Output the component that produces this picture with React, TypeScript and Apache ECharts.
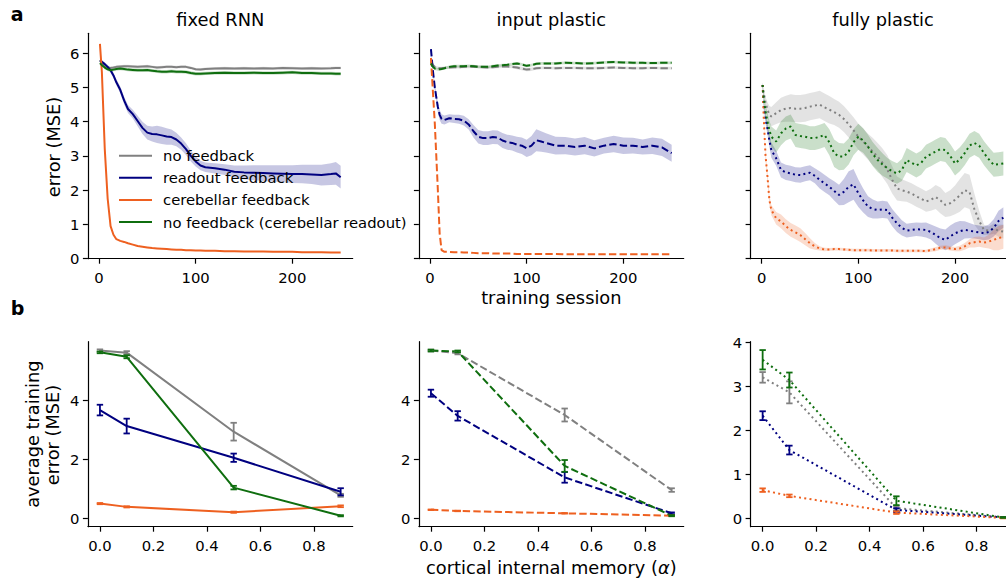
import React, { useEffect, useRef } from "react";
import * as echarts from "echarts";

// ---------------- data: panel a, fixed RNN ----------------
const tFixed = [1, 3, 6, 9, 12, 15, 18, 22, 26, 30, 35, 40, 45, 50, 55, 60, 65, 70, 75, 80, 85, 90, 95, 100, 105, 110, 120, 130, 140, 150, 160, 170, 180, 190, 200, 210, 220, 230, 240, 245, 250];
const fixedNoFb = [5.8, 5.7, 5.62, 5.58, 5.57, 5.58, 5.6, 5.61, 5.62, 5.62, 5.61, 5.6, 5.61, 5.62, 5.6, 5.58, 5.59, 5.6, 5.6, 5.59, 5.6, 5.6, 5.57, 5.53, 5.52, 5.54, 5.55, 5.56, 5.55, 5.56, 5.55, 5.56, 5.55, 5.57, 5.56, 5.55, 5.56, 5.55, 5.56, 5.57, 5.57];
const fixedNoFbSd = [0.04, 0.04, 0.04, 0.04, 0.04, 0.04, 0.04, 0.04, 0.04, 0.04, 0.04, 0.04, 0.04, 0.04, 0.04, 0.04, 0.04, 0.04, 0.04, 0.04, 0.04, 0.04, 0.04, 0.04, 0.04, 0.04, 0.04, 0.04, 0.04, 0.04, 0.04, 0.04, 0.04, 0.04, 0.04, 0.04, 0.04, 0.04, 0.04, 0.04, 0.04];
const fixedReadout = [5.78, 5.75, 5.68, 5.6, 5.5, 5.35, 5.15, 4.93, 4.62, 4.37, 4.22, 4.02, 3.82, 3.68, 3.64, 3.63, 3.6, 3.57, 3.55, 3.48, 3.36, 3.2, 3.0, 2.84, 2.72, 2.67, 2.64, 2.6, 2.54, 2.52, 2.51, 2.5, 2.49, 2.48, 2.47, 2.47, 2.46, 2.44, 2.47, 2.49, 2.38];
const fixedReadoutSd = [0.03, 0.04, 0.05, 0.06, 0.07, 0.08, 0.09, 0.1, 0.11, 0.12, 0.13, 0.15, 0.18, 0.2, 0.22, 0.25, 0.25, 0.24, 0.22, 0.2, 0.18, 0.17, 0.16, 0.15, 0.14, 0.14, 0.15, 0.16, 0.18, 0.2, 0.22, 0.23, 0.24, 0.25, 0.26, 0.27, 0.28, 0.3, 0.32, 0.33, 0.33];
const fixedCereb = [6.27, 5.45, 3.2, 1.75, 0.95, 0.7, 0.57, 0.52, 0.49, 0.45, 0.41, 0.37, 0.35, 0.33, 0.31, 0.3, 0.29, 0.28, 0.27, 0.26, 0.26, 0.25, 0.25, 0.24, 0.24, 0.23, 0.23, 0.22, 0.22, 0.21, 0.21, 0.21, 0.2, 0.2, 0.2, 0.19, 0.19, 0.19, 0.18, 0.18, 0.18];
const fixedCerebReadout = [5.71, 5.65, 5.58, 5.53, 5.5, 5.52, 5.54, 5.55, 5.54, 5.52, 5.51, 5.5, 5.5, 5.51, 5.49, 5.47, 5.46, 5.46, 5.47, 5.46, 5.46, 5.45, 5.42, 5.4, 5.4, 5.41, 5.42, 5.43, 5.42, 5.42, 5.43, 5.42, 5.42, 5.43, 5.44, 5.42, 5.42, 5.41, 5.41, 5.4, 5.4];
const fixedCerebReadoutSd = [0.05, 0.05, 0.05, 0.05, 0.05, 0.05, 0.05, 0.05, 0.05, 0.05, 0.05, 0.05, 0.05, 0.05, 0.05, 0.05, 0.05, 0.05, 0.05, 0.05, 0.05, 0.05, 0.05, 0.05, 0.05, 0.05, 0.05, 0.05, 0.05, 0.05, 0.05, 0.05, 0.05, 0.05, 0.05, 0.05, 0.05, 0.05, 0.05, 0.05, 0.05];

// ---------------- data: panel a, input plastic ----------------
const tInput = [1, 3, 5, 8, 10, 12, 15, 20, 25, 30, 35, 40, 45, 50, 55, 60, 65, 70, 75, 80, 85, 90, 95, 100, 105, 110, 115, 120, 130, 140, 150, 160, 170, 180, 190, 200, 210, 220, 230, 240, 250];
const inputNoFb = [5.76, 5.66, 5.6, 5.57, 5.56, 5.56, 5.57, 5.58, 5.59, 5.59, 5.6, 5.6, 5.61, 5.6, 5.59, 5.58, 5.59, 5.6, 5.61, 5.61, 5.6, 5.58, 5.55, 5.52, 5.53, 5.56, 5.57, 5.57, 5.56, 5.57, 5.57, 5.56, 5.56, 5.57, 5.58, 5.57, 5.56, 5.56, 5.57, 5.56, 5.56];
const inputNoFbSd = [0.04, 0.04, 0.04, 0.04, 0.04, 0.04, 0.04, 0.04, 0.04, 0.04, 0.04, 0.04, 0.04, 0.04, 0.04, 0.04, 0.04, 0.04, 0.04, 0.04, 0.04, 0.05, 0.05, 0.05, 0.05, 0.04, 0.04, 0.04, 0.04, 0.04, 0.04, 0.04, 0.04, 0.04, 0.04, 0.04, 0.04, 0.04, 0.04, 0.04, 0.04];
const inputReadout = [6.12, 5.5, 5.0, 4.45, 4.2, 4.08, 4.05, 4.1, 4.08, 4.07, 4.03, 3.92, 3.72, 3.56, 3.52, 3.52, 3.55, 3.54, 3.45, 3.4, 3.38, 3.33, 3.3, 3.22, 3.3, 3.46, 3.42, 3.38, 3.3, 3.3, 3.26, 3.3, 3.22, 3.3, 3.35, 3.3, 3.3, 3.26, 3.3, 3.25, 3.08];
const inputReadoutSd = [0.03, 0.08, 0.12, 0.15, 0.15, 0.14, 0.13, 0.12, 0.12, 0.13, 0.14, 0.15, 0.18, 0.2, 0.2, 0.2, 0.2, 0.2, 0.22, 0.22, 0.22, 0.23, 0.24, 0.25, 0.28, 0.32, 0.3, 0.28, 0.26, 0.25, 0.25, 0.25, 0.24, 0.23, 0.24, 0.24, 0.23, 0.22, 0.24, 0.25, 0.25];
const inputCereb = [5.86, 4.9, 3.95, 2.1, 0.74, 0.25, 0.2, 0.2, 0.19, 0.19, 0.18, 0.18, 0.17, 0.16, 0.16, 0.16, 0.15, 0.15, 0.15, 0.15, 0.15, 0.14, 0.14, 0.14, 0.14, 0.14, 0.14, 0.14, 0.14, 0.13, 0.13, 0.13, 0.13, 0.13, 0.13, 0.13, 0.13, 0.13, 0.13, 0.13, 0.13];
const inputCerebReadout = [5.7, 5.6, 5.55, 5.53, 5.53, 5.54, 5.56, 5.6, 5.62, 5.62, 5.62, 5.63, 5.62, 5.6, 5.6, 5.6, 5.62, 5.64, 5.65, 5.66, 5.68, 5.7, 5.67, 5.63, 5.65, 5.69, 5.7, 5.7, 5.7, 5.72, 5.71, 5.7, 5.71, 5.73, 5.74, 5.73, 5.72, 5.72, 5.71, 5.72, 5.72];
const inputCerebReadoutSd = [0.04, 0.04, 0.04, 0.04, 0.04, 0.04, 0.04, 0.04, 0.04, 0.04, 0.04, 0.04, 0.04, 0.04, 0.04, 0.04, 0.04, 0.04, 0.04, 0.04, 0.04, 0.04, 0.04, 0.04, 0.04, 0.04, 0.04, 0.04, 0.04, 0.04, 0.04, 0.04, 0.04, 0.04, 0.04, 0.04, 0.04, 0.04, 0.04, 0.04, 0.04];

// ---------------- data: panel a, fully plastic ----------------
const tFull = [1, 2, 4, 6, 8, 10, 15, 20, 25, 30, 35, 40, 45, 50, 55, 60, 65, 70, 75, 80, 85, 90, 95, 100, 105, 110, 115, 120, 125, 130, 135, 140, 145, 150, 155, 160, 165, 170, 175, 180, 185, 190, 195, 200, 205, 210, 215, 220, 225, 230, 235, 240, 245, 250];
const fullNoFb = [5.07, 4.85, 4.55, 4.35, 4.2, 4.15, 4.25, 4.34, 4.38, 4.4, 4.38, 4.38, 4.4, 4.44, 4.47, 4.5, 4.42, 4.35, 4.28, 4.2, 4.08, 3.92, 3.75, 3.56, 3.42, 3.27, 3.12, 2.98, 2.8, 2.6, 2.3, 2.05, 2.0, 1.96, 1.9, 1.82, 1.75, 1.67, 1.72, 1.8, 1.7, 1.57, 1.62, 1.72, 1.85, 2.0, 1.95, 1.45, 1.1, 0.84, 0.82, 0.88, 0.82, 0.79];
const fullNoFbSd = [0.08, 0.12, 0.18, 0.22, 0.26, 0.28, 0.32, 0.36, 0.38, 0.4, 0.4, 0.4, 0.4, 0.4, 0.4, 0.4, 0.4, 0.4, 0.38, 0.38, 0.38, 0.38, 0.38, 0.38, 0.38, 0.38, 0.4, 0.4, 0.42, 0.42, 0.4, 0.35, 0.32, 0.3, 0.3, 0.3, 0.3, 0.3, 0.32, 0.35, 0.38, 0.35, 0.38, 0.42, 0.48, 0.5, 0.5, 0.45, 0.3, 0.15, 0.12, 0.15, 0.18, 0.2];
const fullReadout = [5.07, 4.5, 4.1, 3.8, 3.45, 3.17, 2.93, 2.59, 2.52, 2.49, 2.45, 2.44, 2.48, 2.51, 2.42, 2.3, 2.2, 2.1, 1.98, 1.86, 1.95, 2.1, 2.17, 1.91, 1.7, 1.52, 1.45, 1.42, 1.44, 1.42, 1.2, 1.03, 0.9, 0.82, 0.84, 0.86, 0.85, 0.84, 0.78, 0.69, 0.6, 0.55, 0.65, 0.74, 0.8, 0.84, 0.82, 0.79, 0.77, 0.74, 0.78, 0.9, 1.1, 1.2];
const fullReadoutSd = [0.08, 0.12, 0.15, 0.18, 0.2, 0.22, 0.22, 0.22, 0.22, 0.22, 0.22, 0.22, 0.22, 0.22, 0.22, 0.25, 0.25, 0.25, 0.28, 0.3, 0.38, 0.45, 0.45, 0.4, 0.35, 0.3, 0.28, 0.25, 0.25, 0.25, 0.25, 0.25, 0.22, 0.2, 0.2, 0.2, 0.2, 0.22, 0.22, 0.25, 0.28, 0.3, 0.32, 0.32, 0.3, 0.25, 0.22, 0.2, 0.2, 0.2, 0.22, 0.25, 0.3, 0.3];
const fullCereb = [5.07, 4.2, 3.0, 2.4, 1.71, 1.42, 1.18, 1.09, 0.95, 0.84, 0.77, 0.69, 0.57, 0.45, 0.36, 0.3, 0.27, 0.27, 0.28, 0.28, 0.27, 0.26, 0.25, 0.25, 0.25, 0.25, 0.24, 0.24, 0.24, 0.24, 0.24, 0.23, 0.23, 0.23, 0.23, 0.23, 0.23, 0.22, 0.25, 0.28, 0.32, 0.33, 0.3, 0.28, 0.3, 0.36, 0.45, 0.48, 0.5, 0.47, 0.5, 0.55, 0.6, 0.64];
const fullCerebSd = [0.05, 0.1, 0.15, 0.15, 0.15, 0.15, 0.18, 0.2, 0.2, 0.2, 0.2, 0.2, 0.18, 0.15, 0.1, 0.06, 0.05, 0.04, 0.04, 0.04, 0.04, 0.04, 0.04, 0.04, 0.04, 0.04, 0.04, 0.04, 0.04, 0.04, 0.04, 0.04, 0.04, 0.04, 0.04, 0.04, 0.04, 0.04, 0.05, 0.06, 0.06, 0.06, 0.06, 0.06, 0.08, 0.1, 0.12, 0.15, 0.15, 0.15, 0.2, 0.3, 0.35, 0.35];
const fullCerebReadout = [5.07, 4.7, 4.3, 4.0, 3.75, 3.56, 3.42, 3.66, 3.8, 3.86, 3.61, 3.58, 3.56, 3.52, 3.52, 3.56, 3.61, 3.4, 3.08, 2.98, 2.98, 3.13, 3.4, 3.56, 3.45, 3.27, 3.05, 2.88, 2.75, 2.64, 2.55, 2.49, 2.59, 2.88, 2.8, 2.72, 2.8, 2.98, 3.05, 3.13, 3.2, 3.17, 3.0, 2.78, 2.9, 3.08, 3.3, 3.38, 3.3, 3.08, 2.9, 2.74, 2.76, 2.78];
const fullCerebReadoutSd = [0.08, 0.15, 0.2, 0.25, 0.28, 0.3, 0.32, 0.35, 0.35, 0.35, 0.35, 0.35, 0.35, 0.35, 0.35, 0.35, 0.35, 0.38, 0.4, 0.4, 0.38, 0.38, 0.38, 0.38, 0.36, 0.35, 0.35, 0.35, 0.33, 0.3, 0.3, 0.3, 0.32, 0.35, 0.35, 0.35, 0.35, 0.35, 0.35, 0.35, 0.35, 0.35, 0.35, 0.35, 0.35, 0.35, 0.35, 0.35, 0.35, 0.35, 0.35, 0.35, 0.35, 0.35];

// ---------------- data: panel b ----------------
const alphaVals = [0, 0.1, 0.5, 0.9];
const bFixedNoFb = [5.67, 5.6, 2.93, 0.78];
const bFixedNoFbErr = [0.04, 0.05, 0.3, 0.05];
const bFixedReadout = [3.66, 3.12, 2.05, 0.9];
const bFixedReadoutErr = [0.18, 0.25, 0.14, 0.12];
const bFixedCereb = [0.5, 0.39, 0.21, 0.41];
const bFixedCerebErr = [0.02, 0.02, 0.02, 0.03];
const bFixedCerebReadout = [5.61, 5.46, 1.04, 0.09];
const bFixedCerebReadoutErr = [0.03, 0.05, 0.06, 0.02];

const bInputNoFb = [5.7, 5.61, 3.51, 0.96];
const bInputNoFbErr = [0.03, 0.04, 0.22, 0.06];
const bInputReadout = [4.25, 3.48, 1.39, 0.17];
const bInputReadoutErr = [0.12, 0.16, 0.18, 0.03];
const bInputCereb = [0.29, 0.25, 0.17, 0.09];
const bInputCerebErr = [0.01, 0.01, 0.01, 0.01];
const bInputCerebReadout = [5.7, 5.67, 1.78, 0.09];
const bInputCerebReadoutErr = [0.03, 0.03, 0.2, 0.02];

const bFullNoFb = [3.2, 2.86, 0.23, 0.02];
const bFullNoFbErr = [0.12, 0.25, 0.05, 0.01];
const bFullReadout = [2.33, 1.55, 0.19, 0.02];
const bFullReadoutErr = [0.1, 0.1, 0.04, 0.01];
const bFullCereb = [0.64, 0.51, 0.13, 0.01];
const bFullCerebErr = [0.04, 0.03, 0.03, 0.01];
const bFullCerebReadout = [3.6, 3.14, 0.4, 0.02];
const bFullCerebReadoutErr = [0.22, 0.17, 0.1, 0.01];

// ---------------- labels ----------------
const panelTitles = ["fixed RNN", "input plastic", "fully plastic"];
const legendNames = ["no feedback", "readout feedback", "cerebellar feedback", "no feedback (cerebellar readout)"];
const topYTicks = [0, 1, 2, 3, 4, 5, 6];
const topXTicks = [0, 100, 200];
const bottomXTicks = [0, 0.2, 0.4, 0.6, 0.8];
const bottomYTicks = [0, 2, 4];
const bottomYTicksFull = [0, 1, 2, 3, 4];

// ---------------- styles ----------------
const GRAY = "#808080";
const NAVY = "#000080";
const ORANGE = "#ee6020";
const GREEN = "#0f6e0f";
const FONT = "DejaVu Sans";
const GRID_LEFT = [87.9, 418.9, 750.6];
const GRID_W = 264.8;
const DASHED = [7.4, 3.2];
const DOTTED = [2, 3.3];

function bandSeries(ax: number, ts: number[], mean: number[], sd: number[], color: string) {
  return {
    type: "custom",
    xAxisIndex: ax,
    yAxisIndex: ax,
    silent: true,
    z: 1,
    data: ts.map((t, i) => [t, mean[i] - sd[i], mean[i] + sd[i]]),
    encode: { x: 0, y: [1, 2] },
    renderItem: (params: any, api: any) => {
      if (params.dataIndex !== 0) return null;
      const up = ts.map((t, i) => api.coord([t, mean[i] + sd[i]]));
      const lo = ts.map((t, i) => api.coord([t, mean[i] - sd[i]])).reverse();
      return {
        type: "polygon",
        shape: { points: up.concat(lo) },
        style: { fill: color, opacity: 0.22 },
      };
    },
  };
}

function lineSeries(name: string, ax: number, xs: number[], ys: number[], color: string, dash: any) {
  return {
    type: "line",
    name,
    xAxisIndex: ax,
    yAxisIndex: ax,
    data: xs.map((x, i) => [x, ys[i]]),
    showSymbol: false,
    symbol: "none",
    color,
    itemStyle: { color },
    lineStyle: { color, width: 2, type: dash },
    z: 3,
  };
}

function errSeries(ax: number, ys: number[], errs: number[], color: string) {
  return {
    type: "custom",
    xAxisIndex: ax,
    yAxisIndex: ax,
    silent: true,
    z: 4,
    data: alphaVals.map((a, i) => [a, ys[i], errs[i]]),
    encode: { x: 0, y: 1 },
    renderItem: (params: any, api: any) => {
      const x = api.value(0);
      const y = api.value(1);
      const e = api.value(2);
      const a = api.coord([x, y + e]);
      const b = api.coord([x, y - e]);
      const cw = 3.2;
      const st = { stroke: color, lineWidth: 1.8 };
      return {
        type: "group",
        children: [
          { type: "line", shape: { x1: a[0], y1: a[1], x2: b[0], y2: b[1] }, style: st },
          { type: "line", shape: { x1: a[0] - cw, y1: a[1], x2: a[0] + cw, y2: a[1] }, style: st },
          { type: "line", shape: { x1: b[0] - cw, y1: b[1], x2: b[0] + cw, y2: b[1] }, style: st },
        ],
      };
    },
  };
}

function axis(gi: number, min: number, max: number, ticks: number[], showLabels: boolean, fmt: (v: number) => string, isX: boolean) {
  return {
    type: "value",
    gridIndex: gi,
    min,
    max,
    axisLine: { show: true, onZero: false, lineStyle: { color: "#000", width: 1.2 } },
    axisTick: { show: true, inside: false, length: 5, customValues: ticks, lineStyle: { color: "#000", width: 1.2 } },
    axisLabel: {
      show: showLabels,
      customValues: ticks,
      color: "#000",
      fontSize: 14.8,
      fontFamily: FONT,
      margin: isX ? 11.5 : 8.5,
      formatter: (v: number) => fmt(v),
    },
    splitLine: { show: false },
  };
}

const intFmt = (v: number) => String(Math.round(v));
const decFmt = (v: number) => v.toFixed(1);

export default function App() {
  const ref = useRef<HTMLDivElement>(null);
  useEffect(() => {
    if (!ref.current) return;
    const chart = echarts.init(ref.current, null, { renderer: "svg" });

    const grids: any[] = [];
    for (let i = 0; i < 3; i++) {
      grids.push({ left: GRID_LEFT[i], top: 33.3, width: GRID_W, height: 225.4, containLabel: false, outerBoundsMode: "none" });
    }
    for (let i = 0; i < 3; i++) {
      grids.push({ left: GRID_LEFT[i], top: 341.7, width: GRID_W, height: 185, containLabel: false, outerBoundsMode: "none" });
    }

    const xAxes: any[] = [];
    const yAxes: any[] = [];
    for (let i = 0; i < 3; i++) {
      xAxes.push(axis(i, -11.45, 262.45, topXTicks, true, intFmt, true));
      yAxes.push(axis(i, 0, 6.58, topYTicks, i === 0, intFmt, false));
    }
    for (let i = 0; i < 3; i++) {
      xAxes.push(axis(3 + i, -0.045, 0.945, bottomXTicks, true, decFmt, true));
    }
    yAxes.push(axis(3, -0.28, 5.97, bottomYTicks, true, intFmt, false));
    yAxes.push(axis(4, -0.285, 6.0, bottomYTicks, true, intFmt, false));
    yAxes.push(axis(5, -0.19, 4.01, bottomYTicksFull, true, intFmt, false));

    const series: any[] = [
      // fixed RNN
      bandSeries(0, tFixed, fixedNoFb, fixedNoFbSd, GRAY),
      bandSeries(0, tFixed, fixedReadout, fixedReadoutSd, NAVY),
      bandSeries(0, tFixed, fixedCerebReadout, fixedCerebReadoutSd, GREEN),
      lineSeries(legendNames[0], 0, tFixed, fixedNoFb, GRAY, "solid"),
      lineSeries(legendNames[1], 0, tFixed, fixedReadout, NAVY, "solid"),
      lineSeries(legendNames[2], 0, tFixed, fixedCereb, ORANGE, "solid"),
      lineSeries(legendNames[3], 0, tFixed, fixedCerebReadout, GREEN, "solid"),
      // input plastic
      bandSeries(1, tInput, inputNoFb, inputNoFbSd, GRAY),
      bandSeries(1, tInput, inputReadout, inputReadoutSd, NAVY),
      bandSeries(1, tInput, inputCerebReadout, inputCerebReadoutSd, GREEN),
      lineSeries("ip-nofb", 1, tInput, inputNoFb, GRAY, DASHED),
      lineSeries("ip-readout", 1, tInput, inputReadout, NAVY, DASHED),
      lineSeries("ip-cereb", 1, tInput, inputCereb, ORANGE, DASHED),
      lineSeries("ip-cerebreadout", 1, tInput, inputCerebReadout, GREEN, DASHED),
      // fully plastic
      bandSeries(2, tFull, fullNoFb, fullNoFbSd, GRAY),
      bandSeries(2, tFull, fullReadout, fullReadoutSd, NAVY),
      bandSeries(2, tFull, fullCereb, fullCerebSd, ORANGE),
      bandSeries(2, tFull, fullCerebReadout, fullCerebReadoutSd, GREEN),
      lineSeries("fp-nofb", 2, tFull, fullNoFb, GRAY, DOTTED),
      lineSeries("fp-readout", 2, tFull, fullReadout, NAVY, DOTTED),
      lineSeries("fp-cereb", 2, tFull, fullCereb, ORANGE, DOTTED),
      lineSeries("fp-cerebreadout", 2, tFull, fullCerebReadout, GREEN, DOTTED),
      // b: fixed
      lineSeries("b1-nofb", 3, alphaVals, bFixedNoFb, GRAY, "solid"),
      lineSeries("b1-readout", 3, alphaVals, bFixedReadout, NAVY, "solid"),
      lineSeries("b1-cereb", 3, alphaVals, bFixedCereb, ORANGE, "solid"),
      lineSeries("b1-cerebreadout", 3, alphaVals, bFixedCerebReadout, GREEN, "solid"),
      errSeries(3, bFixedNoFb, bFixedNoFbErr, GRAY),
      errSeries(3, bFixedReadout, bFixedReadoutErr, NAVY),
      errSeries(3, bFixedCereb, bFixedCerebErr, ORANGE),
      errSeries(3, bFixedCerebReadout, bFixedCerebReadoutErr, GREEN),
      // b: input
      lineSeries("b2-nofb", 4, alphaVals, bInputNoFb, GRAY, DASHED),
      lineSeries("b2-readout", 4, alphaVals, bInputReadout, NAVY, DASHED),
      lineSeries("b2-cereb", 4, alphaVals, bInputCereb, ORANGE, DASHED),
      lineSeries("b2-cerebreadout", 4, alphaVals, bInputCerebReadout, GREEN, DASHED),
      errSeries(4, bInputNoFb, bInputNoFbErr, GRAY),
      errSeries(4, bInputReadout, bInputReadoutErr, NAVY),
      errSeries(4, bInputCereb, bInputCerebErr, ORANGE),
      errSeries(4, bInputCerebReadout, bInputCerebReadoutErr, GREEN),
      // b: full
      lineSeries("b3-nofb", 5, alphaVals, bFullNoFb, GRAY, DOTTED),
      lineSeries("b3-readout", 5, alphaVals, bFullReadout, NAVY, DOTTED),
      lineSeries("b3-cereb", 5, alphaVals, bFullCereb, ORANGE, DOTTED),
      lineSeries("b3-cerebreadout", 5, alphaVals, bFullCerebReadout, GREEN, DOTTED),
      errSeries(5, bFullNoFb, bFullNoFbErr, GRAY),
      errSeries(5, bFullReadout, bFullReadoutErr, NAVY),
      errSeries(5, bFullCereb, bFullCerebErr, ORANGE),
      errSeries(5, bFullCerebReadout, bFullCerebReadoutErr, GREEN),
    ];

    const big = { fontSize: 17.8, fontFamily: FONT, fill: "#000" };
    const centers = GRID_LEFT.map((l) => l + GRID_W / 2);
    const graphic: any[] = [
      { type: "text", x: 10.7, y: 14.1, style: { text: "a", fontSize: 19, fontWeight: "bold", fontFamily: FONT, fill: "#000", textAlign: "left", textVerticalAlign: "middle" } },
      { type: "text", x: 10.7, y: 308.4, style: { text: "b", fontSize: 19, fontWeight: "bold", fontFamily: FONT, fill: "#000", textAlign: "left", textVerticalAlign: "middle" } },
      ...panelTitles.map((t, i) => ({ type: "text", x: centers[i], y: 19.8, style: { ...big, text: t, textAlign: "center", textVerticalAlign: "middle" } })),
      { type: "text", x: centers[1], y: 297.8, style: { ...big, text: "training session", textAlign: "center", textVerticalAlign: "middle" } },
      {
        type: "text", x: centers[1], y: 567.3,
        style: { ...big, text: "cortical internal memory ({i|α})", textAlign: "center", textVerticalAlign: "middle", rich: { i: { fontStyle: "italic", fontSize: 17.8, fontFamily: FONT, fill: "#000" } } },
      },
      { type: "text", x: 53.7, y: 147, rotation: Math.PI / 2, style: { ...big, text: "error (MSE)", textAlign: "center", textVerticalAlign: "middle" } },
      { type: "text", x: 32.7, y: 434.2, rotation: Math.PI / 2, style: { ...big, text: "average training", textAlign: "center", textVerticalAlign: "middle" } },
      { type: "text", x: 52.2, y: 435, rotation: Math.PI / 2, style: { ...big, text: "error (MSE)", textAlign: "center", textVerticalAlign: "middle" } },
    ];

    chart.setOption({
      animation: false,
      backgroundColor: "#fff",
      textStyle: { fontFamily: FONT },
      grid: grids,
      xAxis: xAxes,
      yAxis: yAxes,
      legend: {
        data: legendNames,
        orient: "vertical",
        left: 119,
        top: 146.7,
        padding: 0,
        itemWidth: 33,
        itemHeight: 2,
        icon: "rect",
        itemGap: 4.1,
        selectedMode: false,
        textStyle: { fontSize: 14.8, fontFamily: FONT, color: "#000", lineHeight: 18, padding: [0, 0, 0, 6] },
      },
      graphic,
      series,
    });
    return () => chart.dispose();
  }, []);
  return <div ref={ref} style={{ position: "fixed", left: 0, top: 0, width: 1006, height: 580, background: "#fff" }} />;
}
